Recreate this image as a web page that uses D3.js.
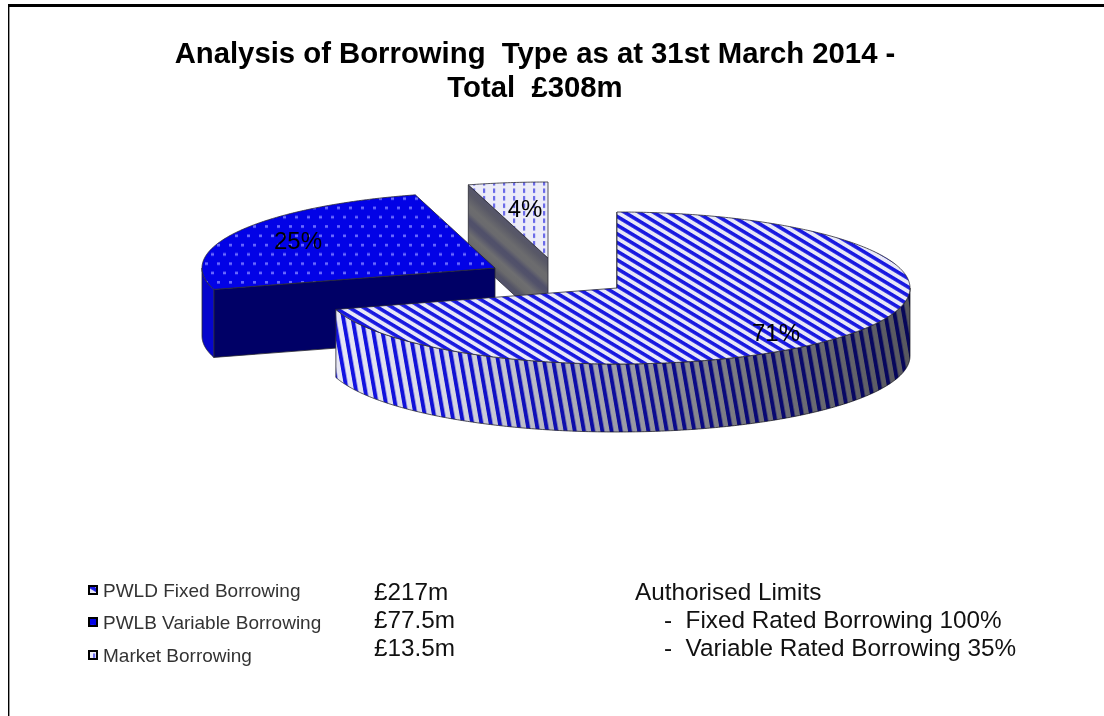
<!DOCTYPE html>
<html>
<head>
<meta charset="utf-8">
<script src="https://cdn.jsdelivr.net/npm/d3@7/dist/d3.min.js"></script>
<style>
  html, body { margin: 0; padding: 0; background: #fff; }
  svg { display: block; }
  text { font-family: "Liberation Sans", Arial, sans-serif; white-space: pre; }
</style>
</head>
<body>
<script>
// Borrowing by type, in £m
const categories = ["PWLD Fixed Borrowing", "PWLB Variable Borrowing", "Market Borrowing"];
const amounts = [217, 77.5, 13.5];
const amountLabels = ["£217m", "£77.5m", "£13.5m"];
const percentLabels = ["71%", "25%", "4%"];
const titleLines = ["Analysis of Borrowing  Type as at 31st March 2014 -", "Total  £308m"];
const limitLines = ["Authorised Limits", "-  Fixed Rated Borrowing 100%", "-  Variable Rated Borrowing 35%"];

// Projection of the tilted pie
const rx = 293, ry = 76, depth = 68;
const apexes = [[617, 288], [495, 268], [548, 258]];
const labelAt = [[776, 332], [298, 240], [525, 208]];
const legendRows = [590, 622, 655];
const textRows = [599.5, 628, 655.5];

const width = 1104, height = 716;
const svg = d3.select("body").append("svg").attr("width", width).attr("height", height);
const defs = svg.append("defs");

// Fill textures for the three slices
const stripes = defs.append("pattern").attr("id", "tex-fixed")
  .attr("patternUnits", "userSpaceOnUse").attr("width", 10).attr("height", 7.45)
  .attr("patternTransform", "rotate(31)");
stripes.append("rect").attr("width", 10).attr("height", 7.45).attr("fill", "#e8e8f8");
stripes.append("rect").attr("width", 10).attr("height", 3.6).attr("fill", "#1818e0");

const wallStripes = defs.append("pattern").attr("id", "tex-fixed-wall")
  .attr("patternUnits", "userSpaceOnUse").attr("width", 9.2).attr("height", 20)
  .attr("patternTransform", "skewX(10)");
wallStripes.append("rect").attr("width", 9.2).attr("height", 20).attr("fill", "#f0f0fa");
wallStripes.append("rect").attr("width", 4).attr("height", 20).attr("fill", "#1212e8");

const dots = defs.append("pattern").attr("id", "tex-variable")
  .attr("patternUnits", "userSpaceOnUse").attr("width", 12).attr("height", 18.6);
dots.append("rect").attr("width", 12).attr("height", 18.6).attr("fill", "#0202e6");
dots.append("rect").attr("x", 1).attr("y", 2).attr("width", 3).attr("height", 2.6).attr("fill", "#6a6aff");
dots.append("rect").attr("x", 7).attr("y", 11.3).attr("width", 3).attr("height", 2.6).attr("fill", "#6a6aff");

const dashes = defs.append("pattern").attr("id", "tex-market")
  .attr("patternUnits", "userSpaceOnUse").attr("width", 10).attr("height", 7.5);
dashes.append("rect").attr("width", 10).attr("height", 7.5).attr("fill", "#ececf8");
dashes.append("rect").attr("x", 3).attr("y", 1).attr("width", 2.2).attr("height", 4.5).attr("fill", "#6a6ae8");

// Shading applied over the curved rim of the large slice
const rimShade = defs.append("linearGradient").attr("id", "rim-shade")
  .attr("gradientUnits", "userSpaceOnUse")
  .attr("x1", 337).attr("y1", 0).attr("x2", 912).attr("y2", 0);
[[0, "#f6f6fa"], [0.2, "#e4e4e8"], [0.45, "#aeaeb2"], [0.72, "#7c7c80"], [1, "#5c5c60"]]
  .forEach(([o, c]) => rimShade.append("stop").attr("offset", o).attr("stop-color", c));

// Banded shading on the cut face of the small slice
const cutShade = defs.append("linearGradient").attr("id", "cut-shade")
  .attr("gradientUnits", "userSpaceOnUse")
  .attr("x1", 508).attr("y1", 222).attr("x2", 475).attr("y2", 259);
[[0, "#55556a"], [0.1, "#585866"], [0.28, "#6c6c6e"], [0.38, "#6a6a6e"], [0.48, "#50506a"],
 [0.56, "#52526a"], [0.7, "#6e6e70"], [0.82, "#6a6a6c"], [0.92, "#545466"], [1, "#50506a"]]
  .forEach(([o, c]) => cutShade.append("stop").attr("offset", o).attr("stop-color", c));

const topFill = d3.scaleOrdinal().domain(categories).range(["url(#tex-fixed)", "url(#tex-variable)", "url(#tex-market)"]);
const rimFill = d3.scaleOrdinal().domain(categories).range(["url(#tex-fixed-wall)", "#0505cc", "#5a5a68"]);
const cutFill = d3.scaleOrdinal().domain(categories).range(["#555566", "#000066", "url(#cut-shade)"]);

const arcs = d3.pie().sort(null).startAngle(0).endAngle(2 * Math.PI)(amounts)
  .map((d, i) => ({ ...d, name: categories[i], apex: apexes[i], label: percentLabels[i], at: labelAt[i] }));

const project = (apex, a, z = 0) => [apex[0] + rx * Math.sin(a), apex[1] - ry * Math.cos(a) + z];
const line = d3.line();
const sweep = (a0, a1) => {
  const n = Math.max(2, Math.ceil(Math.abs(a1 - a0) / 0.01));
  return d3.range(n + 1).map(k => a0 + (a1 - a0) * k / n);
};

const pie = svg.append("g");
const edge = "#2a2a32";

// Painted back to front: small slice, then medium, then large
arcs.slice().reverse().forEach(d => {
  const g = pie.append("g").attr("class", "slice");

  // Cut face along the start radius
  const s0 = d.apex, s1 = project(d.apex, d.startAngle);
  g.append("path")
    .attr("d", line([s0, s1, [s1[0], s1[1] + depth], [s0[0], s0[1] + depth]]) + "Z")
    .attr("fill", cutFill(d.name)).attr("stroke", edge).attr("stroke-width", 0.8);

  // Curved rim, only where it faces the viewer
  const from = Math.max(d.startAngle, Math.PI / 2), to = Math.min(d.endAngle, 3 * Math.PI / 2);
  if (to > from) {
    const angles = sweep(from, to);
    const rim = angles.map(a => project(d.apex, a)).concat(angles.slice().reverse().map(a => project(d.apex, a, depth)));
    g.append("path").attr("d", line(rim) + "Z").attr("fill", rimFill(d.name))
      .attr("stroke", edge).attr("stroke-width", 0.8);
    if (d.index === 0) {
      g.append("path").attr("d", line(rim) + "Z").attr("fill", "url(#rim-shade)")
        .style("mix-blend-mode", "multiply");
    }
  }

  // Top face
  const face = [d.apex].concat(sweep(d.startAngle, d.endAngle).map(a => project(d.apex, a)));
  g.append("path").attr("d", line(face) + "Z").attr("fill", topFill(d.name))
    .attr("stroke", edge).attr("stroke-width", 0.8);
});

// Percentage labels sit above all the slices
pie.selectAll("text.pct").data(arcs).join("text").attr("class", "pct")
  .attr("x", d => d.at[0]).attr("y", d => d.at[1] + 8.5)
  .attr("text-anchor", "middle").attr("font-size", 24).attr("fill", "#000")
  .text(d => d.label);

// Frame on the top and left
svg.append("rect").attr("x", 8).attr("y", 4).attr("width", width - 8).attr("height", 3).attr("fill", "#000");
svg.append("rect").attr("x", 8).attr("y", 4).attr("width", 1.4).attr("height", height - 4).attr("fill", "#000");

// Title
svg.append("g").selectAll("text").data(titleLines).join("text")
  .attr("x", 535).attr("y", (d, i) => 63 + i * 34)
  .attr("text-anchor", "middle").attr("font-size", 29.3).attr("font-weight", "bold").attr("fill", "#000")
  .text(d => d);

// Legend with amounts
const legend = svg.append("g");
legend.selectAll("rect").data(arcs).join("rect")
  .attr("x", 89).attr("y", (d, i) => legendRows[i] - 4).attr("width", 8).attr("height", 8)
  .attr("fill", d => topFill(d.name)).attr("stroke", "#000").attr("stroke-width", 2);
legend.selectAll("text.name").data(categories).join("text").attr("class", "name")
  .attr("x", 103).attr("y", (d, i) => legendRows[i] + 6.5)
  .attr("font-size", 19).attr("fill", "#333").text(d => d);
legend.selectAll("text.amount").data(amountLabels).join("text").attr("class", "amount")
  .attr("x", 374).attr("y", (d, i) => textRows[i])
  .attr("font-size", 24.3).attr("fill", "#111").text(d => d);

// Authorised limits block
svg.append("g").selectAll("text").data(limitLines).join("text")
  .attr("x", (d, i) => i === 0 ? 635 : 664).attr("y", (d, i) => textRows[i])
  .attr("font-size", 24.3).attr("fill", "#111").text(d => d);
</script>
</body>
</html>
